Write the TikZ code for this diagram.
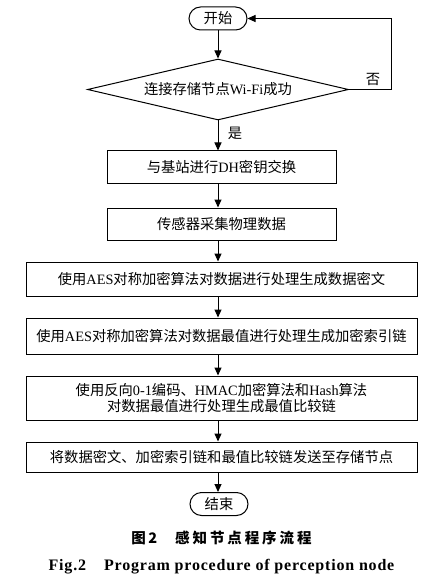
\documentclass[tikz,border=0pt]{standalone}
\usepackage{fontspec}
\setmainfont{Liberation Serif}
\newfontfamily\cjk{Noto Sans CJK SC}
\usetikzlibrary{arrows.meta,shapes.geometric,positioning}
\newcommand{\zh}[1]{{\cjk #1}}

\begin{document}
\begin{tikzpicture}[x=1pt,y=-1pt,
    txt/.style={font=\fontsize{14.3}{16}\selectfont},
    box/.style={draw, line width=1pt, txt, align=center, inner sep=2pt},
    small/.style={box, minimum width=229pt},
    wide/.style={box, minimum width=391pt},
    terminal/.style={draw, line width=1pt, txt, rounded corners=11.5pt,
        minimum width=58pt, minimum height=23pt, inner sep=2pt},
    decision/.style={draw, diamond, line width=1pt, txt, aspect=4.3,
        minimum width=261pt, minimum height=61pt, inner sep=0pt},
    arr/.style={line width=1pt, -{Triangle[length=8pt,width=7pt]}}]
    \useasboundingbox (0,0) rectangle (441,585);

    % Start and test
    \node[terminal] (start) at (218,18.5) {\zh{开始}};
    \node[decision] (conn) at (218,89.5) {\zh{连接存储节点}Wi-Fi\zh{成功}};

    % Steps
    \node[small, minimum height=33pt] (dh) at (221.5,167.5) {\zh{与基站进行}DH\zh{密钥交换}};
    \node[small, minimum height=32pt] (sense) at (221.5,224) {\zh{传感器采集物理数据}};
    \node[wide, minimum height=34pt] (enc) at (221.5,279) {\zh{使用}AES\zh{对称加密算法对数据进行处理生成数据密文}};
    \node[wide, minimum height=36pt] (idx) at (221.5,336) {\zh{使用}AES\zh{对称加密算法对数据最值进行处理生成加密索引链}};
    \node[wide, minimum height=44pt] (cmp) at (221.5,398) {\zh{使用反向}0-1\zh{编码、}HMAC\zh{加密算法和}Hash\zh{算法}\\ \zh{对数据最值进行处理生成最值比较链}};
    \node[wide, minimum height=30pt] (send) at (221.5,457) {\zh{将数据密文、加密索引链和最值比较链发送至存储节点}};
    \node[terminal] (stop) at (219,504) {\zh{结束}};

    % Branch labels
    \node[txt] (no) at (373,79) {\zh{否}};
    \node[txt] (yes) at (235,133) {\zh{是}};
    \coordinate (turn) at (391,89.5);

    % Path
    \draw[arr] (start) -- (conn);
    \draw[arr] (conn.east) -- (turn) |- (start.east);
    \draw[arr] (conn.south) -- (conn.south |- dh.north);
    \draw[arr] (dh.south -| conn.south) -- (sense.north -| conn.south);
    \draw[arr] (sense.south -| conn.south) -- (enc.north -| conn.south);
    \draw[arr] (enc.south -| conn.south) -- (idx.north -| conn.south);
    \draw[arr] (idx.south -| conn.south) -- (cmp.north -| conn.south);
    \draw[arr] (cmp.south -| conn.south) -- (send.north -| conn.south);
    \draw[arr] (send.south -| conn.south) -- (stop.north -| conn.south);

    % Captions
    \node[font=\cjk\bfseries\fontsize{14.5}{17}\selectfont\addfontfeature{LetterSpace=20}] (cap) at (221.5,538) {图\,2\hspace{18pt}感知节点程序流程};
    \node[font=\bfseries\fontsize{16}{18}\selectfont\addfontfeature{LetterSpace=5}] (capen) at (221.5,567) {Fig.2\hspace{18pt}Program procedure of perception node};
\end{tikzpicture}
\end{document}
